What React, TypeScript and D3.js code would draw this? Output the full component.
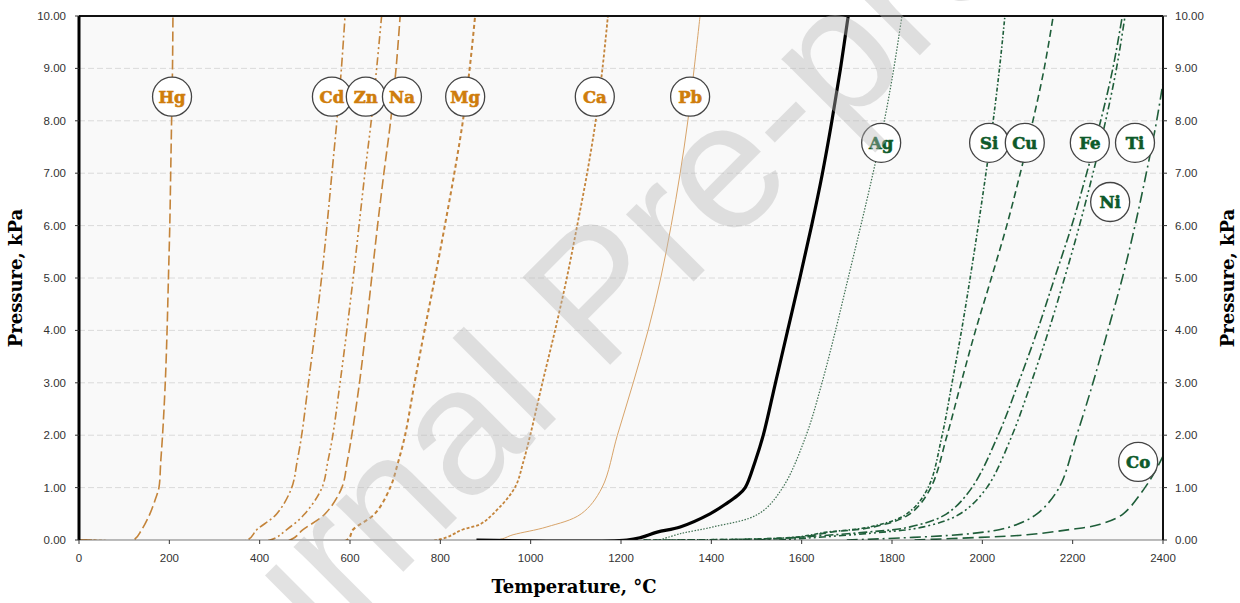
import React from "react";
import * as d3 from "d3";

// vapour pressure curves, [temperature °C, pressure kPa]
const hg = [[0, 0], [120, 0], [139, 0.2], [157, 0.5], [170, 0.8], [177, 1.0], [181, 1.5], [185, 2], [191, 3], [195, 4], [198, 5], [201, 6], [203, 7], [205, 8], [207, 9], [208, 10]];
const cd = [[0, 0], [372, 0], [394, 0.2], [438, 0.5], [471, 1], [483, 1.5], [493, 2], [508, 3], [523, 4], [537, 5], [549, 6], [560, 7], [571, 8], [581, 9], [589, 10]];
const zn = [[0, 0], [423, 0], [460, 0.2], [500, 0.5], [538, 1], [551, 1.5], [562, 2], [578, 3], [593, 4], [607, 5], [620, 6], [633, 7], [647, 8], [659, 9], [670, 10]];
const na = [[0, 0], [467, 0], [496, 0.2], [545, 0.5], [582, 1], [594, 1.5], [604, 2], [621, 3], [635, 4], [648, 5], [661, 6], [675, 7], [690, 8], [702, 9], [711, 10]];
const mg = [[0, 0], [593, 0], [607, 0.2], [655, 0.5], [689, 1], [707, 1.5], [722, 2], [743, 3], [765, 4], [788, 5], [810, 6], [831, 7], [850, 8], [865, 9], [877, 10]];
const ca = [[0, 0], [793, 0], [850, 0.2], [888, 0.3], [917, 0.5], [965, 1], [984, 1.5], [999, 2], [1026, 3], [1054, 4], [1080, 5], [1103, 6], [1125, 7], [1144, 8], [1159, 9], [1171, 10]];
const pb = [[0, 0], [925, 0], [961, 0.1], [1036, 0.25], [1112, 0.5], [1158, 1], [1192, 2], [1227, 3], [1260, 4], [1288, 5], [1311, 6], [1331, 7], [1348, 8], [1362, 9], [1375, 10]];
const alloy = [[880, 0], [1213, 0], [1245, 0.05], [1280, 0.15], [1331, 0.25], [1397, 0.5], [1434, 0.7], [1458, 0.85], [1475, 1], [1497, 1.5], [1515, 2], [1542, 3], [1569, 4], [1596, 5], [1622, 6], [1646, 7], [1667, 8], [1686, 9], [1703, 10]];
const ag = [[1286, 0], [1331, 0.12], [1404, 0.25], [1505, 0.5], [1558, 1], [1610, 2], [1645, 3], [1675, 4], [1703, 5], [1731, 6], [1758, 7], [1783, 8], [1804, 9], [1822, 10]];
const si = [[1250, 0], [1581, 0.05], [1656, 0.15], [1751, 0.25], [1833, 0.5], [1880, 1], [1911, 2], [1933, 3], [1954, 4], [1973, 5], [1991, 6], [2008, 7], [2024, 8], [2038, 9], [2050, 10]];
const cu = [[1250, 0], [1590, 0.05], [1665, 0.15], [1760, 0.25], [1840, 0.5], [1886, 1], [1922, 2], [1953, 3], [1985, 4], [2020, 5], [2054, 6], [2084, 7], [2112, 8], [2137, 9], [2157, 10]];
const fe = [[1500, 0], [1744, 0.15], [1840, 0.25], [1921, 0.5], [1977, 1], [2035, 2], [2080, 3], [2122, 4], [2160, 5], [2198, 6], [2231, 7], [2262, 8], [2289, 9], [2310, 10]];
const ni = [[1550, 0], [1780, 0.15], [1870, 0.25], [1951, 0.5], [2010, 1], [2066, 2], [2108, 3], [2147, 4], [2182, 5], [2215, 6], [2245, 7], [2273, 8], [2297, 9], [2316, 10]];
const ti = [[1700, 0], [1973, 0.12], [2061, 0.25], [2121, 0.5], [2170, 1], [2209, 2], [2245, 3], [2278, 4], [2310, 5], [2338, 6], [2363, 7], [2386, 8], [2405, 9]];
const co = [[1850, 0], [1995, 0.05], [2099, 0.1], [2194, 0.2], [2261, 0.3], [2312, 0.5], [2360, 1], [2382, 1.3], [2400, 1.6]];

const xTicks = [0, 200, 400, 600, 800, 1000, 1200, 1400, 1600, 1800, 2000, 2200, 2400];
const yTicks = [0, 1, 2, 3, 4, 5, 6, 7, 8, 9, 10];

// label bubbles: element, temperature, pressure
const labelNames = ["Hg", "Cd", "Zn", "Na", "Mg", "Ca", "Pb", "Ag", "Si", "Cu", "Fe", "Ti", "Ni", "Co"];
const labelT = [206, 560, 635, 715, 855, 1142, 1353, 1776, 2015, 2094, 2238, 2338, 2283, 2345];
const labelP = [8.46, 8.46, 8.46, 8.46, 8.46, 8.46, 8.46, 7.58, 7.58, 7.58, 7.58, 7.58, 6.45, 1.49];

const ORANGE = "#c4843a";
const GREEN = "#1f5e3a";

const series = [
  { data: hg, color: ORANGE, dash: "10,4", w: 1.6 },
  { data: cd, color: ORANGE, dash: "9,3,2,3", w: 1.6 },
  { data: zn, color: ORANGE, dash: "8,3,2,3,2,3", w: 1.6 },
  { data: na, color: ORANGE, dash: "10,4", w: 1.6 },
  { data: mg, color: ORANGE, dash: "4,3", w: 2 },
  { data: ca, color: ORANGE, dash: "3,2", w: 1.8 },
  { data: pb, color: "#d8a46a", dash: "", w: 1 },
  { data: alloy, color: "#000", dash: "", w: 3.2 },
  { data: ag, color: "#3d6e50", dash: "1.5,1.5", w: 1.2 },
  { data: si, color: GREEN, dash: "4,2,1.5,2", w: 1.6 },
  { data: cu, color: GREEN, dash: "7,4", w: 1.6 },
  { data: fe, color: GREEN, dash: "9,3,2,3", w: 1.6 },
  { data: ni, color: GREEN, dash: "7,3,2,3,2,3", w: 1.6 },
  { data: ti, color: GREEN, dash: "11,4,2,4", w: 1.6 },
  { data: co, color: GREEN, dash: "11,5", w: 1.6 },
];

const W = 1240;
const H = 603;
const margin = { top: 16, right: 77, bottom: 63, left: 79 };

export default function App() {
  const width = W - margin.left - margin.right;
  const height = H - margin.top - margin.bottom;

  const x = d3.scaleLinear().domain([0, 2400]).range([0, width]);
  const y = d3.scaleLinear().domain([0, 10]).range([height, 0]);

  const line = d3
    .line<number[]>()
    .x((d) => x(d[0]))
    .y((d) => y(Math.max(0, d[1])))
    .curve(d3.curveCatmullRom.alpha(0.5));

  const tickFont = { fontFamily: "'Liberation Sans', Arial, sans-serif", fontSize: 11.5, fill: "#333" };
  const titleFont = { fontFamily: "'DejaVu Serif', serif", fontWeight: 700, fontSize: 18, fill: "#000" };

  return (
    <svg width={W} height={H} style={{ position: "absolute", left: 0, top: 0, background: "#fff" }}>
      <defs>
        <clipPath id="plotClip">
          <rect x={0} y={-2} width={width} height={height + 2} />
        </clipPath>
      </defs>
      <g transform={`translate(${margin.left},${margin.top})`}>
        <rect x={0} y={0} width={width} height={height} fill="#f9f9f9" />
        {yTicks.slice(1, -1).map((t) => (
          <line key={t} x1={0} x2={width} y1={y(t)} y2={y(t)} stroke="#dadada" strokeWidth={1} strokeDasharray="6,3" />
        ))}

        <g clipPath="url(#plotClip)">
          {series.map((s, i) => (
            <path
              key={i}
              d={line(s.data) || ""}
              fill="none"
              stroke={s.color}
              strokeWidth={s.w}
              strokeDasharray={s.dash || undefined}
            />
          ))}
        </g>

        {/* frame */}
        <line x1={0} x2={width} y1={0} y2={0} stroke="#111" strokeWidth={2} />
        <line x1={width} x2={width} y1={0} y2={height} stroke="#111" strokeWidth={2} />
        <line x1={0} x2={width} y1={height} y2={height} stroke="#222" strokeWidth={1.2} opacity={0.6} />
        <line x1={0} x2={0} y1={0} y2={height} stroke="#000" strokeWidth={3} />

        {/* x axis */}
        {xTicks.map((t) => (
          <g key={t} transform={`translate(${x(t)},${height})`}>
            <line y1={0} y2={4} stroke="#333" />
            <text y={22} textAnchor="middle" {...tickFont}>{t}</text>
          </g>
        ))}

        {/* y axes */}
        {yTicks.map((t) => (
          <g key={t}>
            <line x1={-4} x2={0} y1={y(t)} y2={y(t)} stroke="#333" />
            <text x={-13} y={y(t)} dy="0.35em" textAnchor="end" {...tickFont}>{t.toFixed(2)}</text>
            <line x1={width} x2={width + 4} y1={y(t)} y2={y(t)} stroke="#333" />
            <text x={width + 12} y={y(t)} dy="0.35em" textAnchor="start" {...tickFont}>{t.toFixed(2)}</text>
          </g>
        ))}

        {/* element labels */}
        {labelNames.map((n, i) => {
          const c = i < 7 ? "#cf7d0c" : "#0d5a2a";
          return (
            <g key={n} transform={`translate(${x(labelT[i])},${y(labelP[i])})`}>
              <circle r={19.5} fill="#fff" stroke="#444" strokeWidth={1.3} />
              <text
                textAnchor="middle"
                dy="0.36em"
                fontFamily="'DejaVu Serif', serif"
                fontWeight={700}
                fontSize={16.5}
                fill={c}
                stroke={c}
                strokeWidth={0.6}
              >
                {n}
              </text>
            </g>
          );
        })}

        {/* axis titles */}
        <text x={width / 2 - 47} y={height + 53} textAnchor="middle" {...titleFont}>
          Temperature, °C
        </text>
        <text transform={`translate(${-57},${height / 2}) rotate(-90)`} textAnchor="middle" {...titleFont}>
          Pressure, kPa
        </text>
        <text transform={`translate(${width + 71},${height / 2}) rotate(-90)`} textAnchor="middle" {...titleFont}>
          Pressure, kPa
        </text>
      </g>

      {/* watermark */}
      <text
        transform="translate(147,828) rotate(-45)"
        fontFamily="'Liberation Sans', Arial, sans-serif"
        fontSize={180}
        fill="#b8b8b8"
        opacity={0.4}
      >
        Journal Pre-proof
      </text>
    </svg>
  );
}
